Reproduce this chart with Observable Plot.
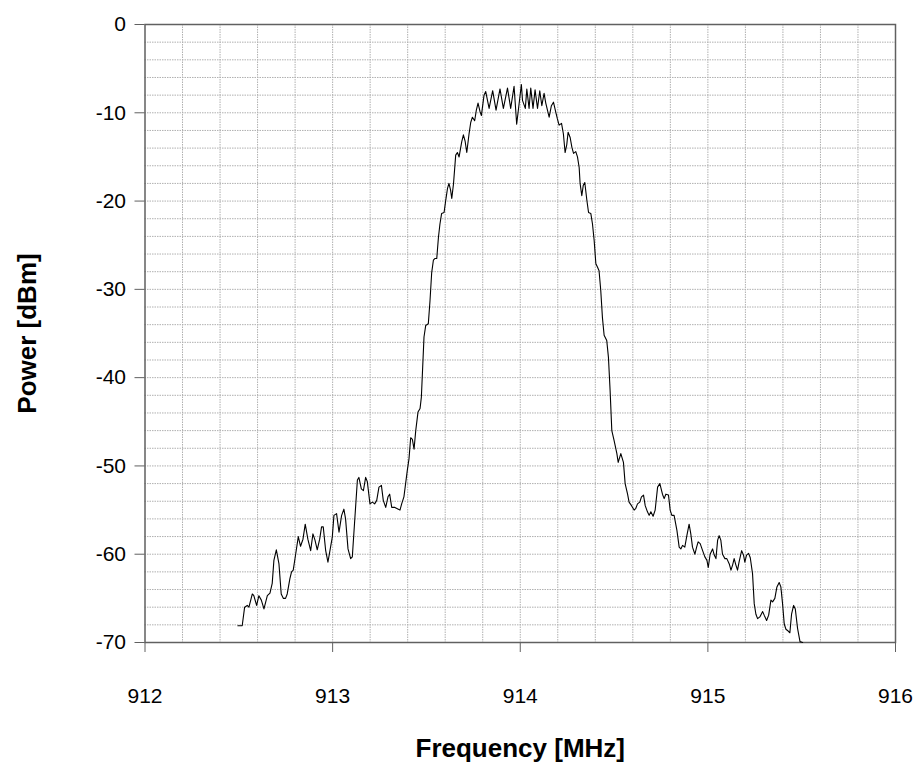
<!DOCTYPE html>
<html>
<head>
<meta charset="utf-8">
<script src="https://cdn.jsdelivr.net/npm/d3@7"></script>
<script src="https://cdn.jsdelivr.net/npm/@observablehq/plot@0.6"></script>
<style>
  html, body { margin: 0; padding: 0; background: #fff; }
  #chart { width: 920px; height: 763px; }
</style>
</head>
<body>
<div id="chart"></div>
<script>
// Frequency [MHz] of each measured point
const freq = [
  912.495, 912.518, 912.531, 912.545, 912.554, 912.572, 912.580, 912.595, 912.607, 912.620,
  912.634, 912.652, 912.666, 912.678, 912.687, 912.700, 912.714, 912.726, 912.737, 912.749,
  912.758, 912.772, 912.781, 912.790, 912.803, 912.817, 912.829, 912.842, 912.854, 912.868,
  912.883, 912.895, 912.906, 912.918, 912.931, 912.941, 912.950, 912.963, 912.975, 912.989,
  912.998, 913.007, 913.021, 913.034, 913.048, 913.060, 913.069, 913.082, 913.096, 913.105,
  913.117, 913.132, 913.140, 913.153, 913.164, 913.176, 913.185, 913.199, 913.212, 913.224,
  913.235, 913.247, 913.260, 913.270, 913.283, 913.295, 913.304, 913.315, 913.332, 913.350,
  913.359, 913.368, 913.380, 913.389, 913.398, 913.407, 913.416, 913.425, 913.434, 913.443,
  913.455, 913.466, 913.473, 913.480, 913.487, 913.496, 913.510, 913.519, 913.528, 913.537,
  913.546, 913.555, 913.564, 913.572, 913.581, 913.594, 913.603, 913.612, 913.620, 913.629,
  913.635, 913.644, 913.656, 913.665, 913.674, 913.688, 913.697, 913.706, 913.715, 913.727,
  913.736, 913.745, 913.757, 913.766, 913.775, 913.786, 913.793, 913.807, 913.816, 913.834,
  913.853, 913.871, 913.892, 913.910, 913.932, 913.949, 913.967, 913.981, 914.006, 914.012,
  914.027, 914.035, 914.047, 914.056, 914.068, 914.079, 914.092, 914.104, 914.115, 914.127,
  914.136, 914.145, 914.154, 914.166, 914.177, 914.189, 914.198, 914.207, 914.220, 914.230,
  914.239, 914.248, 914.255, 914.266, 914.275, 914.284, 914.296, 914.305, 914.314, 914.319,
  914.328, 914.336, 914.344, 914.355, 914.364, 914.376, 914.385, 914.394, 914.403, 914.412,
  914.420, 914.429, 914.438, 914.447, 914.461, 914.470, 914.479, 914.488, 914.500, 914.515,
  914.522, 914.536, 914.550, 914.559, 914.572, 914.580, 914.593, 914.607, 914.616, 914.625,
  914.637, 914.646, 914.657, 914.666, 914.678, 914.687, 914.696, 914.708, 914.719, 914.732,
  914.744, 914.758, 914.767, 914.776, 914.790, 914.799, 914.808, 914.820, 914.835, 914.847,
  914.856, 914.865, 914.877, 914.888, 914.900, 914.909, 914.918, 914.931, 914.940, 914.948,
  914.959, 914.972, 914.984, 914.995, 915.002, 915.012, 915.025, 915.034, 915.043, 915.052,
  915.060, 915.069, 915.078, 915.091, 915.101, 915.114, 915.123, 915.132, 915.140, 915.149,
  915.158, 915.167, 915.180, 915.190, 915.197, 915.206, 915.217, 915.226, 915.238, 915.247,
  915.256, 915.265, 915.277, 915.292, 915.300, 915.313, 915.324, 915.336, 915.345, 915.357,
  915.368, 915.380, 915.389, 915.398, 915.407, 915.416, 915.428, 915.437, 915.446, 915.457,
  915.466, 915.478, 915.491, 915.505
];

// Power [dBm] at each frequency
const power = [
  -68.1, -68.1, -66.0, -65.8, -66.0, -64.5, -64.7, -65.8, -64.7, -65.2,
  -66.2, -64.7, -64.4, -63.3, -60.7, -59.5, -61.1, -64.5, -65.0, -65.0,
  -64.5, -62.8, -62.0, -61.8, -60.0, -58.0, -59.1, -58.3, -56.6, -58.3,
  -59.6, -57.7, -58.4, -59.5, -58.3, -56.9, -56.9, -59.6, -60.9, -59.2,
  -58.1, -55.6, -55.4, -57.5, -55.6, -54.9, -56.0, -59.4, -60.5, -60.3,
  -56.4, -51.6, -51.3, -52.6, -52.8, -51.3, -51.8, -54.3, -54.1, -54.3,
  -53.9, -52.4, -52.2, -53.9, -54.7, -53.5, -53.2, -54.7, -54.7, -54.9,
  -55.0, -54.3, -53.5, -52.0, -50.5, -49.2, -46.8, -47.0, -48.1, -46.0,
  -43.9, -43.5, -42.2, -38.8, -35.4, -34.1, -33.9, -31.3, -28.1, -26.7,
  -26.5, -26.5, -24.1, -22.6, -21.4, -21.3, -19.9, -18.6, -18.0, -18.8,
  -19.7, -18.1, -14.8, -14.5, -15.0, -13.3, -12.5, -13.2, -14.5, -12.4,
  -11.1, -10.5, -10.9, -9.7, -8.9, -9.9, -10.3, -8.0, -7.6, -9.5,
  -7.5, -9.7, -7.3, -9.5, -7.2, -9.5, -7.0, -11.3, -6.8, -8.6,
  -9.5, -7.3, -9.5, -7.2, -9.5, -7.4, -9.5, -7.5, -9.2, -7.8,
  -8.9, -9.7, -10.5, -9.2, -8.8, -9.9, -10.7, -11.4, -11.2, -12.4,
  -14.5, -13.6, -12.2, -12.8, -13.9, -14.6, -14.4, -15.0, -16.2, -18.0,
  -19.4, -18.2, -17.9, -19.9, -21.3, -21.4, -22.6, -24.5, -27.1, -27.5,
  -27.9, -30.1, -33.2, -35.2, -35.8, -37.7, -41.5, -46.0, -47.1, -48.6,
  -49.6, -48.6, -49.6, -52.0, -53.2, -54.1, -54.5, -55.0, -54.8, -54.3,
  -54.1, -53.5, -53.3, -54.5, -55.2, -55.6, -55.2, -55.7, -55.0, -52.4,
  -52.0, -53.2, -53.7, -53.2, -53.3, -55.0, -55.6, -55.6, -57.3, -59.2,
  -59.4, -59.0, -59.2, -57.9, -56.6, -57.7, -59.2, -60.0, -59.2, -58.6,
  -58.8, -59.6, -60.3, -60.7, -61.5, -60.0, -59.4, -60.1, -60.5, -58.4,
  -57.9, -58.4, -60.0, -60.5, -60.5, -61.1, -61.8, -61.2, -60.5, -61.2,
  -61.8, -60.8, -59.6, -60.1, -60.9, -60.1, -59.9, -60.4, -62.2, -65.6,
  -66.8, -67.3, -67.1, -66.5, -66.9, -67.5, -66.9, -65.2, -65.4, -65.0,
  -63.7, -63.2, -63.7, -65.6, -67.9, -68.5, -68.7, -68.9, -66.8, -65.8,
  -66.2, -68.4, -69.9, -70.0
];

// Axis ticks and grid positions
const xTicks = [912, 913, 914, 915, 916];
const yTicks = [0, -10, -20, -30, -40, -50, -60, -70];
const xGrid = [912.2, 912.4, 912.6, 912.8, 913, 913.2, 913.4, 913.6, 913.8, 914, 914.2, 914.4, 914.6, 914.8, 915, 915.2, 915.4, 915.6, 915.8];
const yGrid = [-2, -4, -6, -8, -10, -12, -14, -16, -18, -20, -22, -24, -26, -28, -30, -32, -34, -36, -38, -40, -42, -44, -46, -48, -50, -52, -54, -56, -58, -60, -62, -64, -66, -68];

const xTitle = "Frequency [MHz]";
const yTitle = "Power [dBm]";

const data = freq.map((f, i) => ({f, p: power[i]}));

const chart = Plot.plot({
  width: 920,
  height: 763,
  marginLeft: 144.5,
  marginRight: 25,
  marginTop: 24,
  marginBottom: 121,
  style: {fontFamily: "'Liberation Sans', Arial, sans-serif", fontSize: "21px", color: "#000", background: "#fff"},
  x: {domain: [912, 916]},
  y: {domain: [-70, 0]},
  marks: [
    Plot.ruleX(xGrid, {stroke: "#b0b0b0", strokeWidth: 1, strokeDasharray: "1.5,1"}),
    Plot.ruleY(yGrid, {stroke: "#b0b0b0", strokeWidth: 1, strokeDasharray: "1.5,1"}),
    Plot.frame({stroke: "#606060", strokeWidth: 1.5}),
    Plot.axisX({ticks: xTicks, tickFormat: d => String(d), tickSize: 10, tickPadding: 36, fontSize: 21, label: null, stroke: "#606060"}),
    Plot.axisY({ticks: yTicks, tickFormat: d => String(d), tickSize: 10, tickPadding: 9, fontSize: 21, label: null, stroke: "#606060"}),
    Plot.line(data, {x: "f", y: "p", stroke: "#000", strokeWidth: 1.1}),
    Plot.text([xTitle], {frameAnchor: "bottom", dy: 106, fontWeight: "bold", fontSize: 26, lineAnchor: "middle", textAnchor: "middle", fill: "#000"}),
    Plot.text([yTitle], {frameAnchor: "left", dx: -117, rotate: -90, fontWeight: "bold", fontSize: 26, lineAnchor: "middle", textAnchor: "middle", fill: "#000"})
  ]
});
document.getElementById("chart").appendChild(chart);
</script>
</body>
</html>
